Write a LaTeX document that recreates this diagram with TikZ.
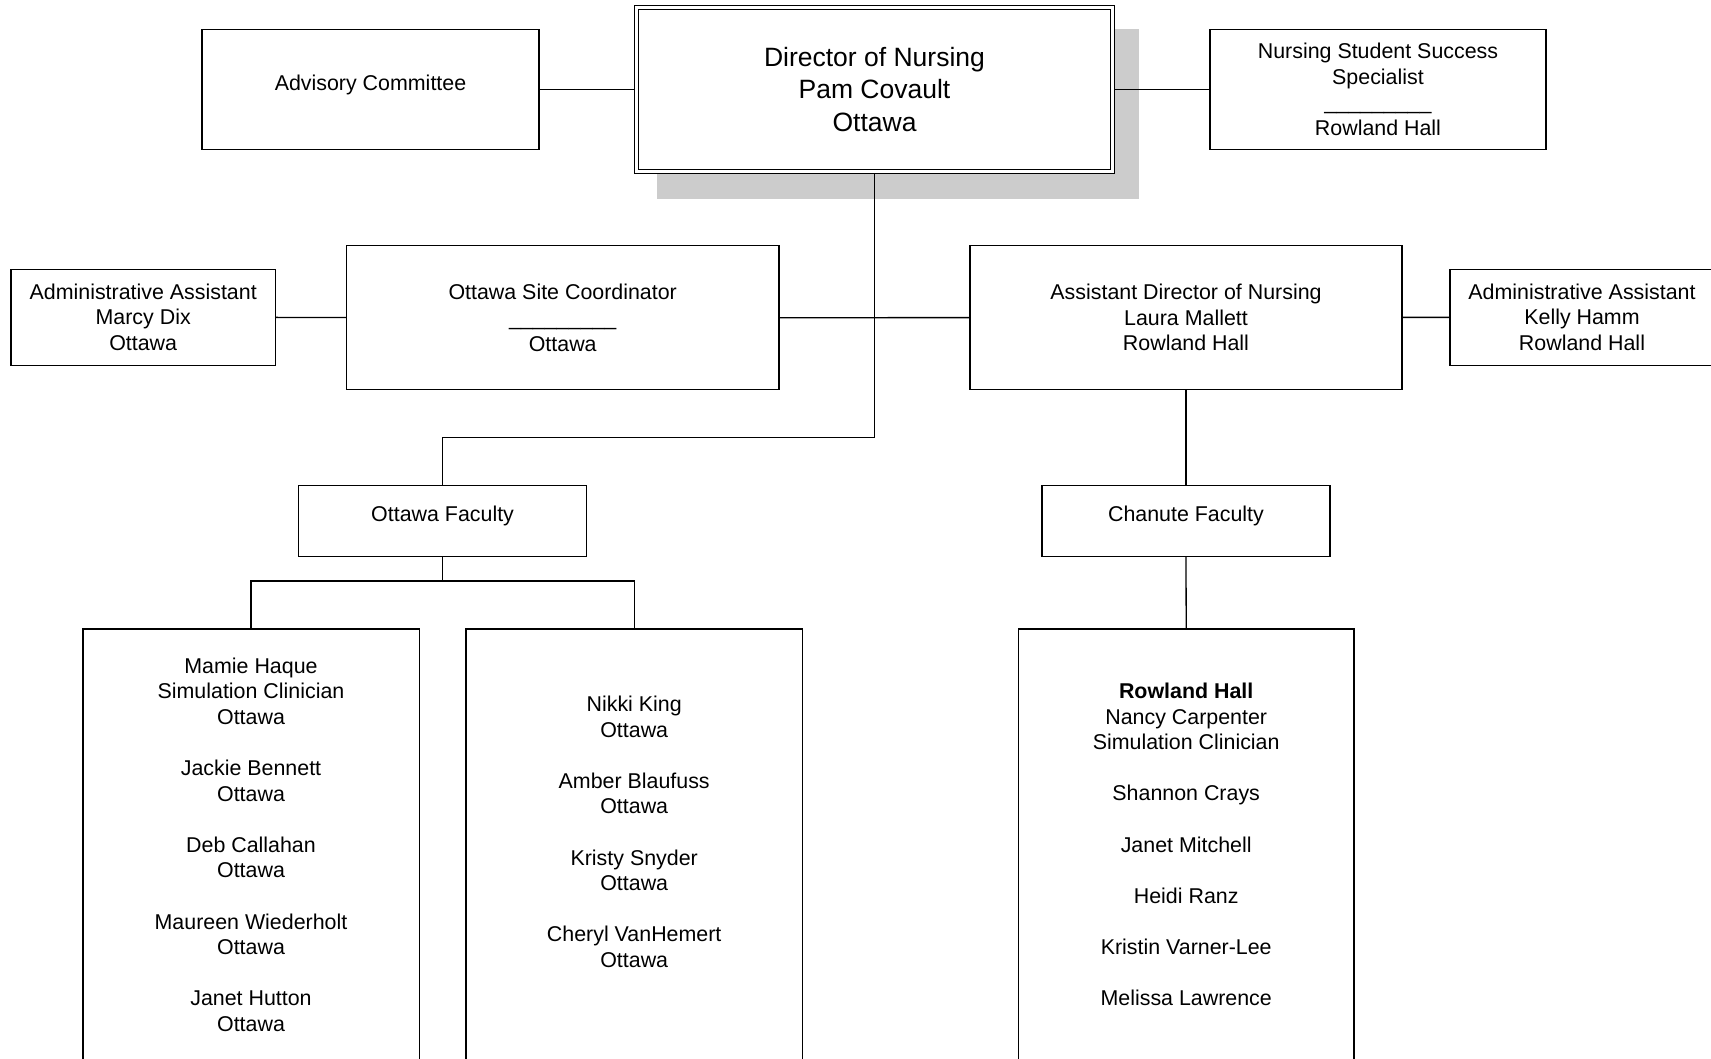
\documentclass[tikz,border=0pt]{standalone}
\usepackage{fontspec}
\setmainfont{Liberation Sans}
\begin{document}
\begin{tikzpicture}[x=1pt,y=-1pt,line width=1.3pt,
    box/.style={draw,fill=white,align=center,inner sep=0pt,font=\fontsize{21.4}{25.6}\selectfont},
    names/.style={align=center,inner sep=0pt,font=\fontsize{21.4}{25.6}\selectfont},
    onerow/.style={text depth=14pt},
    head/.style={box,double,double distance=3pt,line width=1.2pt,outer sep=2.7pt,font=\fontsize{26.5}{32.2}\selectfont},
    shade/.style={fill=black!20}]
    \useasboundingbox (0,0) rectangle (1711,1058);
    % top row
    \fill[shade] (657,28.7) rectangle (1138.6,198.7);
    \node[head,minimum width=476pt,minimum height=164pt] (DN) at (874.5,89.5) {Director of Nursing\\Pam Covault\\Ottawa};
    \node[box,onerow,minimum width=337pt,minimum height=120pt] (AC) at (370.5,89.5) {Advisory Committee};
    \node[box,minimum width=336pt,minimum height=120pt] (SS) at (1378,89.5) {Nursing Student Success\\Specialist\\\_\_\_\_\_\_\_\_\_\\Rowland Hall};
    % second row
    \node[box,minimum width=264.5pt,minimum height=96pt] (MD) at (143.2,317.2) {Administrative Assistant\\Marcy Dix\\Ottawa};
    \node[box,minimum width=432.6pt,minimum height=144pt] (OS) at (562.7,317.8) {Ottawa Site Coordinator\\\_\_\_\_\_\_\_\_\_\\Ottawa};
    \node[box,minimum width=432pt,minimum height=144pt] (AD) at (1186,317.5) {Assistant Director of Nursing\\Laura Mallett\\Rowland Hall};
    \node[box,minimum width=264pt,minimum height=96pt] (KH) at (1582,317.3) {Administrative Assistant\\Kelly Hamm\\Rowland Hall};
    % faculty
    \node[box,onerow,minimum width=287.6pt,minimum height=71pt] (OF) at (442.6,521) {Ottawa Faculty};
    \node[box,onerow,minimum width=288pt,minimum height=71pt] (CF) at (1186,521) {Chanute Faculty};
    \node[box,minimum width=336.3pt,minimum height=471pt] (LF) at (251,864.5) {};
    \node[box,minimum width=336.3pt,minimum height=471pt] (MF) at (634.2,864.5) {};
    \node[box,minimum width=335.7pt,minimum height=471pt] (RF) at (1186.2,864.5) {};
    \node[names] (LN) at (251,844.7) {Mamie Haque\\Simulation Clinician\\Ottawa\\[25.6pt]Jackie Bennett\\Ottawa\\[25.6pt]Deb Callahan\\Ottawa\\[25.6pt]Maureen Wiederholt\\Ottawa\\[25.6pt]Janet Hutton\\Ottawa};
    \node[names] (MN) at (634.2,831.8) {Nikki King\\Ottawa\\[25.6pt]Amber Blaufuss\\Ottawa\\[25.6pt]Kristy Snyder\\Ottawa\\[25.6pt]Cheryl VanHemert\\Ottawa};
    \node[names] (RN) at (1186.2,844.5) {\textbf{Rowland Hall}\\Nancy Carpenter\\Simulation Clinician\\[25.6pt]Shannon Crays\\[25.6pt]Janet Mitchell\\[25.6pt]Heidi Ranz\\[25.6pt]Kristin Varner-Lee\\[25.6pt]Melissa Lawrence};
    \coordinate (J1) at (874.5,437.6);
    \coordinate (J2) at (442.6,581);

    \draw (AC)--(DN);
    \draw (DN)--(SS);
    \draw (MD)--(OS);
    \draw (OS)--(AD);
    \draw (AD)--(KH);
    \draw (DN.south)--(J1) -| (OF.north);
    \draw (AD.south)--(CF.north);
    \draw (CF.south)--(RF.north);
    \draw (OF.south)--(J2);
    \draw (J2) -| (LF.north);
    \draw (J2) -| (MF.north);
\end{tikzpicture}
\end{document}
